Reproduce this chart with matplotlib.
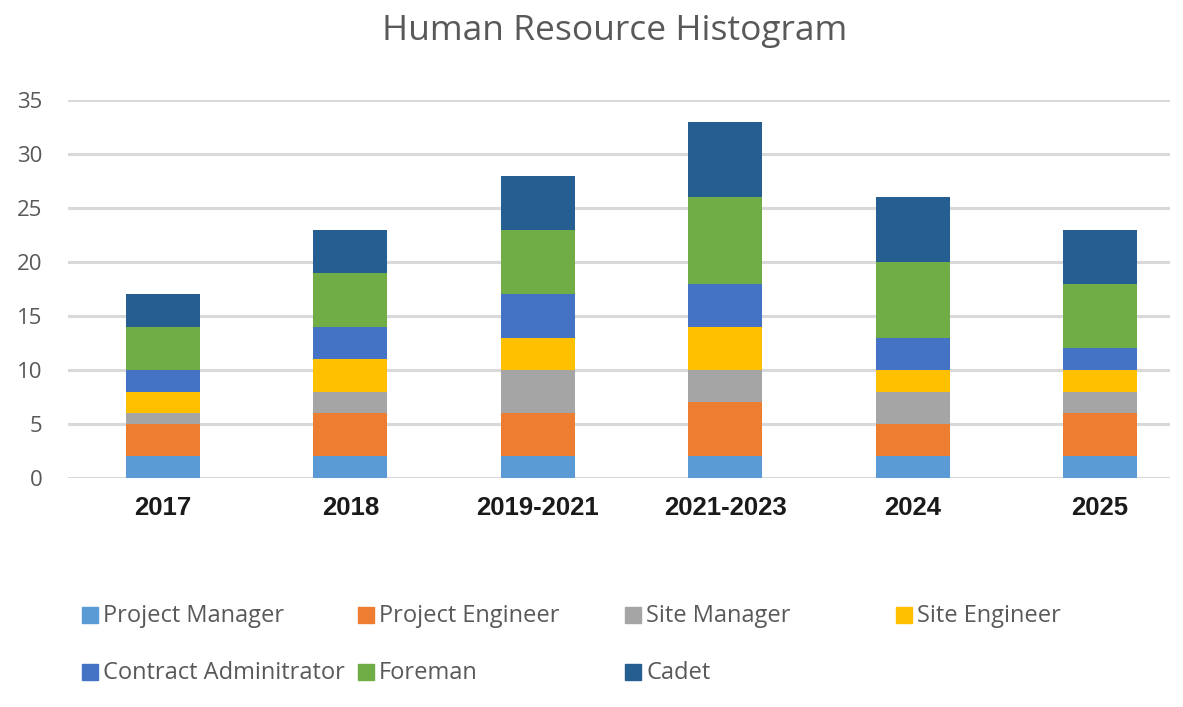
import matplotlib.pyplot as plt
from matplotlib.patches import Rectangle
import numpy as np

# data
periods = ['2017', '2018', '2019-2021', '2021-2023', '2024', '2025']
roles = ['Project Manager', 'Project Engineer', 'Site Manager', 'Site Engineer',
         'Contract Adminitrator', 'Foreman', 'Cadet']
project_manager = [2, 2, 2, 2, 2, 2]
project_engineer = [3, 4, 4, 5, 3, 4]
site_manager = [1, 2, 4, 3, 3, 2]
site_engineer = [2, 3, 3, 4, 2, 2]
contract_admin = [2, 3, 4, 4, 3, 2]
foreman = [4, 5, 6, 8, 7, 6]
cadet = [3, 4, 5, 7, 6, 5]
yticks = [0, 5, 10, 15, 20, 25, 30, 35]

series = [project_manager, project_engineer, site_manager, site_engineer,
          contract_admin, foreman, cadet]
colors = ['#5B9BD5', '#ED7D31', '#A5A5A5', '#FFC000', '#4472C4', '#70AD47', '#255E91']

fig = plt.figure(figsize=(11.83, 7.07), dpi=100)
ax = fig.add_axes([68/1183, 1 - 478/707, (1170-68)/1183, (478-100)/707])

x = np.arange(len(periods))
bottom = np.zeros(len(periods))
for vals, c in zip(series, colors):
    ax.bar(x, vals, width=0.395, bottom=bottom, color=c, zorder=3)
    bottom += np.array(vals)

ax.set_ylim(0, 35)
ax.set_xlim(-0.507, 5.374)
ax.set_yticks(yticks)
ax.yaxis.grid(True, color='#D9D9D9', linewidth=2.2, zorder=0)
ax.set_axisbelow(True)
for s in ax.spines.values():
    s.set_visible(False)
ax.tick_params(length=0)
ax.tick_params(axis='y', pad=18.5)
ax.tick_params(axis='x', pad=13)
ax.set_xticks(x)
ax.set_xticklabels(periods, fontfamily='Liberation Sans', fontweight='bold',
                   fontsize=18.5, color='#1a1a1a')
for lab in ax.get_yticklabels():
    lab.set_fontfamily('Open Sans')
    lab.set_fontsize(16)
    lab.set_color('#595959')

fig.text(615/1183, 1 - 31/707, 'Human Resource Histogram', ha='center', va='center',
         fontfamily='Open Sans', fontsize=25.5, color='#595959')

# legend, drawn by hand to keep the even column spacing
col_x = [82, 358, 625, 896]
row_y = [615, 672]
for i, (name, c) in enumerate(zip(roles, colors)):
    px = col_x[i % 4]
    py = row_y[i // 4]
    fig.patches.append(Rectangle((px/1183, 1 - (py+8)/707), 16/1183, 16/707,
                                 transform=fig.transFigure, color=c))
    fig.text((px+21)/1183, 1 - (py+1)/707, name, ha='left', va='center',
             fontfamily='Open Sans', fontsize=17, color='#595959')

fig.savefig('out.png', dpi=100)
